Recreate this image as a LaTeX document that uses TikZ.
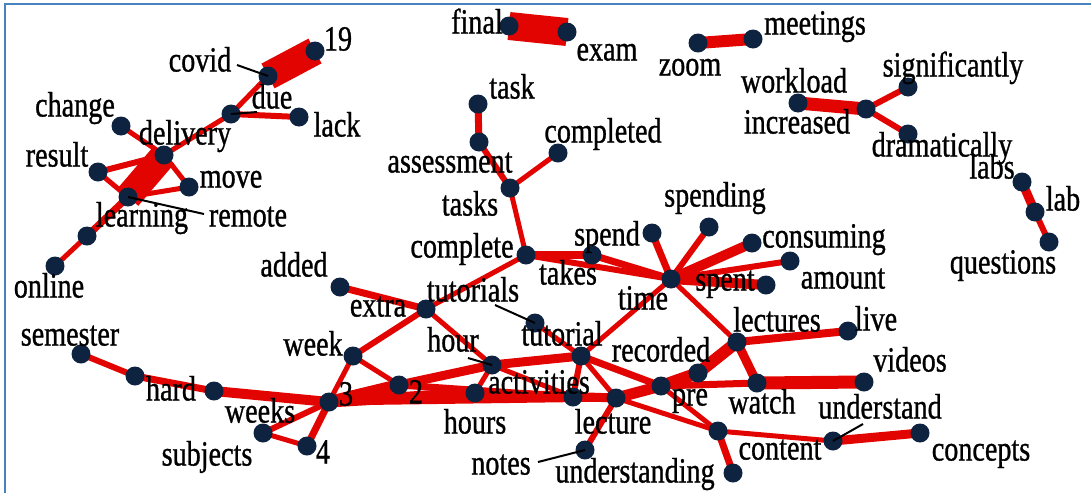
\documentclass[tikz,border=0pt]{standalone}
\usepackage{fontspec}
\setmainfont[FakeBold=1.0]{Liberation Serif}
\usetikzlibrary{backgrounds}
\definecolor{edgered}{RGB}{226,4,0}
\definecolor{navy}{RGB}{14,35,64}
\definecolor{frameblue}{RGB}{70,130,190}
\newcommand\lbtext[1]{\scalebox{0.97}[1.22]{#1}}
\tikzset{
  vert/.style={circle, fill=navy, minimum size=19pt, inner sep=0pt},
  lbl/.style={font=\fontsize{29}{29}\selectfont, inner sep=0pt, text height=24pt, text depth=7pt, text=black},
  ed/.style={draw=edgered, line width=#1pt},
  leader/.style={draw=black, line width=2pt},
}
\begin{document}
\begin{tikzpicture}[x=1pt,y=-1pt]
\useasboundingbox (0,0) rectangle (1091,493);
\draw[frameblue, line width=2.5pt] (5,493) -- (5,4) -- (1091,4);

% vertices
\node[vert] (n19) at (315,51) {};
\node[vert] (ncovid) at (268,76) {};
\node[vert] (ndue) at (231,114) {};
\node[vert] (nlack) at (299,117) {};
\node[vert] (nchange) at (121,126) {};
\node[vert] (ndelivery) at (164,155) {};
\node[vert] (nresult) at (98,172) {};
\node[vert] (nmove) at (189,187) {};
\node[vert] (nremote) at (128,197) {};
\node[vert] (nlearning) at (87,236) {};
\node[vert] (nonline) at (55,266) {};
\node[vert] (nfinal) at (509,26) {};
\node[vert] (nexam) at (567,32) {};
\node[vert] (nzoom) at (698,43) {};
\node[vert] (nmeetings) at (753,39) {};
\node[vert] (nworkload) at (798,103) {};
\node[vert] (nincreased) at (866,109) {};
\node[vert] (nsignif) at (908,87) {};
\node[vert] (ndramatic) at (908,134) {};
\node[vert] (nlabs) at (1022,182) {};
\node[vert] (nlab) at (1035,212) {};
\node[vert] (nquestions) at (1049,242) {};
\node[vert] (ntask) at (478,104) {};
\node[vert] (nassess) at (479,142) {};
\node[vert] (ncompleted) at (558,153) {};
\node[vert] (ntasks) at (510,188) {};
\node[vert] (ncomplete) at (526,255) {};
\node[vert] (ntakes) at (592,255) {};
\node[vert] (nspend) at (652,233) {};
\node[vert] (ntime) at (671,279) {};
\node[vert] (nspending) at (709,227) {};
\node[vert] (nconsuming) at (752,243) {};
\node[vert] (namount) at (790,261) {};
\node[vert] (nspent) at (766,285) {};
\node[vert] (nlectures) at (737,342) {};
\node[vert] (nlive) at (848,331) {};
\node[vert] (nwatch) at (757,383) {};
\node[vert] (nvideos) at (864,382) {};
\node[vert] (ncontent) at (718,431) {};
\node[vert] (nunderstand) at (833,441) {};
\node[vert] (nconcepts) at (920,433) {};
\node[vert] (nunderstanding) at (733,473) {};
\node[vert] (nnotes) at (585,450) {};
\node[vert] (nlecture) at (616,398) {};
\node[vert] (npre) at (661,386) {};
\node[vert] (nrecorded) at (698,373) {};
\node[vert] (nactivities) at (573,397) {};
\node[vert] (ntutorial) at (581,356) {};
\node[vert] (ntutorials) at (535,323) {};
\node[vert] (nhour) at (492,365) {};
\node[vert] (nhours) at (475,393) {};
\node[vert] (nextra) at (426,309) {};
\node[vert] (nadded) at (340,287) {};
\node[vert] (nweek) at (353,356) {};
\node[vert] (ntwo) at (399,385) {};
\node[vert] (nthree) at (329,402) {};
\node[vert] (nhard) at (214,391) {};
\node[vert] (nmid) at (135,376) {};
\node[vert] (nsemester) at (81,354) {};
\node[vert] (nweeks) at (263,433) {};
\node[vert] (nfour) at (307,446) {};

% edges
\begin{pgfonlayer}{background}
\draw[ed=28] (n19.center) -- (ncovid.center);
\draw[ed=5] (ncovid.center) -- (ndue.center);
\draw[ed=6] (ndue.center) -- (nlack.center);
\draw[ed=5] (ndue.center) -- (ndelivery.center);
\draw[ed=5] (nchange.center) -- (ndelivery.center);
\draw[ed=27] (ndelivery.center) -- (nremote.center);
\draw[ed=6] (nresult.center) -- (ndelivery.center);
\draw[ed=5] (nresult.center) -- (nremote.center);
\draw[ed=5] (nmove.center) -- (ndelivery.center);
\draw[ed=5] (nmove.center) -- (nremote.center);
\draw[ed=7] (nremote.center) -- (nlearning.center);
\draw[ed=5] (nlearning.center) -- (nonline.center);
\draw[ed=28] (nfinal.center) -- (nexam.center);
\draw[ed=12] (nzoom.center) -- (nmeetings.center);
\draw[ed=13] (nworkload.center) -- (nincreased.center);
\draw[ed=6] (nincreased.center) -- (nsignif.center);
\draw[ed=6] (nincreased.center) -- (ndramatic.center);
\draw[ed=9] (nlabs.center) -- (nlab.center);
\draw[ed=6] (nlab.center) -- (nquestions.center);
\draw[ed=7] (ntask.center) -- (nassess.center);
\draw[ed=6] (nassess.center) -- (ntasks.center);
\draw[ed=5] (ntasks.center) -- (ncompleted.center);
\draw[ed=5] (ntasks.center) -- (ncomplete.center);
\draw[ed=8] (ncomplete.center) -- (ntakes.center);
\draw[ed=6] (ncomplete.center) -- (ntime.center);
\draw[ed=7] (ntakes.center) -- (ntime.center);
\draw[ed=7] (nspend.center) -- (ntime.center);
\draw[ed=6] (nspending.center) -- (ntime.center);
\draw[ed=10] (nconsuming.center) -- (ntime.center);
\draw[ed=6] (namount.center) -- (ntime.center);
\draw[ed=10] (nspent.center) -- (ntime.center);
\draw[ed=5] (ntime.center) -- (nlectures.center);
\draw[ed=5] (ntime.center) -- (ntutorial.center);
\draw[ed=5] (ncomplete.center) -- (nextra.center);
\draw[ed=7] (nadded.center) -- (nextra.center);
\draw[ed=6] (nextra.center) -- (nweek.center);
\draw[ed=5] (nextra.center) -- (nhour.center);
\draw[ed=5] (ntutorials.center) -- (ntutorial.center);
\draw[ed=5] (nweek.center) -- (nthree.center);
\draw[ed=5] (nweek.center) -- (ntwo.center);
\draw[ed=12] (nthree.center) -- (ntwo.center);
\draw[ed=11] (nthree.center) -- (nhours.center);
\draw[ed=7] (nthree.center) -- (nlecture.center);
\draw[ed=9] (ntwo.center) -- (nhour.center);
\draw[ed=7] (ntwo.center) -- (nactivities.center);
\draw[ed=9] (nhour.center) -- (ntutorial.center);
\draw[ed=5] (nhours.center) -- (nhour.center);
\draw[ed=5] (nhour.center) -- (nactivities.center);
\draw[ed=9] (nhours.center) -- (nlecture.center);
\draw[ed=6] (ntutorial.center) -- (nactivities.center);
\draw[ed=5] (ntutorial.center) -- (nlecture.center);
\draw[ed=7] (ntutorial.center) -- (npre.center);
\draw[ed=11] (nlecture.center) -- (npre.center);
\draw[ed=12] (npre.center) -- (nrecorded.center);
\draw[ed=12] (nrecorded.center) -- (nlectures.center);
\draw[ed=7] (npre.center) -- (nwatch.center);
\draw[ed=9] (nlectures.center) -- (nwatch.center);
\draw[ed=8] (nlectures.center) -- (nlive.center);
\draw[ed=13] (nwatch.center) -- (nvideos.center);
\draw[ed=5] (nlecture.center) -- (ncontent.center);
\draw[ed=5] (npre.center) -- (ncontent.center);
\draw[ed=5] (ncontent.center) -- (nunderstand.center);
\draw[ed=9] (nunderstand.center) -- (nconcepts.center);
\draw[ed=7] (ncontent.center) -- (nunderstanding.center);
\draw[ed=6] (nlecture.center) -- (nnotes.center);
\draw[ed=10] (nthree.center) -- (nhard.center);
\draw[ed=7] (nhard.center) -- (nmid.center);
\draw[ed=6] (nmid.center) -- (nsemester.center);
\draw[ed=6] (nthree.center) -- (nweeks.center);
\draw[ed=7] (nthree.center) -- (nfour.center);
\draw[ed=5] (nweeks.center) -- (nfour.center);
\end{pgfonlayer}

% labels
\node[lbl] (lcovid) at (200,63) {\lbtext{covid}};
\node[lbl] (l19) at (338,42) {\lbtext{19}};
\node[lbl] (ldue) at (272,100) {\lbtext{due}};
\node[lbl] (llack) at (337,128) {\lbtext{lack}};
\node[lbl] (lchange) at (75,108) {\lbtext{change}};
\node[lbl] (ldelivery) at (185,136) {\lbtext{delivery}};
\node[lbl] (lresult) at (57,158) {\lbtext{result}};
\node[lbl] (lmove) at (231,179) {\lbtext{move}};
\node[lbl] (llearning) at (142,218) {\lbtext{learning}};
\node[lbl] (lremote) at (248,218) {\lbtext{remote}};
\node[lbl] (lonline) at (49,289) {\lbtext{online}};
\node[lbl] (lfinal) at (477,25) {\lbtext{final}};
\node[lbl] (lexam) at (607,52) {\lbtext{exam}};
\node[lbl] (lzoom) at (690,67) {\lbtext{zoom}};
\node[lbl] (lmeetings) at (815,26) {\lbtext{meetings}};
\node[lbl] (lworkload) at (794,84) {\lbtext{workload}};
\node[lbl] (lincreased) at (797,125) {\lbtext{increased}};
\node[lbl] (lsignif) at (953,68) {\lbtext{significantly}};
\node[lbl] (ldramatic) at (942,148) {\lbtext{dramatically}};
\node[lbl] (llabs) at (992,170) {\lbtext{labs}};
\node[lbl] (llab) at (1063,202) {\lbtext{lab}};
\node[lbl] (lquestions) at (1003,265) {\lbtext{questions}};
\node[lbl] (ltask) at (512,90) {\lbtext{task}};
\node[lbl] (lassess) at (450,164) {\lbtext{assessment}};
\node[lbl] (lcompleted) at (603,134) {\lbtext{completed}};
\node[lbl] (ltasks) at (470,207) {\lbtext{tasks}};
\node[lbl] (lcomplete) at (462,249) {\lbtext{complete}};
\node[lbl] (lspend) at (607,237) {\lbtext{spend}};
\node[lbl] (ltakes) at (568,276) {\lbtext{takes}};
\node[lbl] (lspending) at (715,198) {\lbtext{spending}};
\node[lbl] (lconsuming) at (824,239) {\lbtext{consuming}};
\node[lbl] (lamount) at (843,280) {\lbtext{amount}};
\node[lbl] (lspent) at (725,282) {\lbtext{spent}};
\node[lbl] (ltime) at (643,301) {\lbtext{time}};
\node[lbl] (llectures) at (777,323) {\lbtext{lectures}};
\node[lbl] (llive) at (876,322) {\lbtext{live}};
\node[lbl] (lvideos) at (910,363) {\lbtext{videos}};
\node[lbl] (lwatch) at (762,405) {\lbtext{watch}};
\node[lbl] (lunderstand) at (880,410) {\lbtext{understand}};
\node[lbl] (lcontent) at (780,451) {\lbtext{content}};
\node[lbl] (lconcepts) at (981,452) {\lbtext{concepts}};
\node[lbl] (lunderstanding) at (635,474) {\lbtext{understanding}};
\node[lbl] (lnotes) at (501,466) {\lbtext{notes}};
\node[lbl] (llecture) at (613,425) {\lbtext{lecture}};
\node[lbl] (lpre) at (690,397) {\lbtext{pre}};
\node[lbl] (lrecorded) at (661,353) {\lbtext{recorded}};
\node[lbl] (lactivities) at (539,385) {\lbtext{activities}};
\node[lbl] (ltutorial) at (562,337) {\lbtext{tutorial}};
\node[lbl] (ltutorials) at (473,293) {\lbtext{tutorials}};
\node[lbl] (lhour) at (453,343) {\lbtext{hour}};
\node[lbl] (lhours) at (475,425) {\lbtext{hours}};
\node[lbl] (lextra) at (378,308) {\lbtext{extra}};
\node[lbl] (ladded) at (294,268) {\lbtext{added}};
\node[lbl] (lweek) at (313,347) {\lbtext{week}};
\node[lbl] (ltwo) at (416,395) {\lbtext{2}};
\node[lbl] (lthree) at (346,397) {\lbtext{3}};
\node[lbl] (lsemester) at (70,337) {\lbtext{semester}};
\node[lbl] (lhard) at (171,392) {\lbtext{hard}};
\node[lbl] (lweeks) at (260,414) {\lbtext{weeks}};
\node[lbl] (lsubjects) at (207,457) {\lbtext{subjects}};
\node[lbl] (lfour) at (323,455) {\lbtext{4}};

% leader lines
\coordinate (kcovid) at (237,65);
\coordinate (kdue) at (257,112);
\coordinate (kremote) at (204,214);
\coordinate (ktutorials) at (495,305);
\coordinate (khour) at (468,358);
\coordinate (knotes) at (538,462);
\coordinate (kunderstand) at (863,424);
\draw[leader] (kcovid) -- (ncovid.center);
\draw[leader] (kdue) -- (ndue.center);
\draw[leader] (kremote) -- (nremote.center);
\draw[leader] (ktutorials) -- (ntutorials.center);
\draw[leader] (khour) -- (nhour.center);
\draw[leader] (knotes) -- (nnotes.center);
\draw[leader] (kunderstand) -- (nunderstand.center);
\end{tikzpicture}
\end{document}
